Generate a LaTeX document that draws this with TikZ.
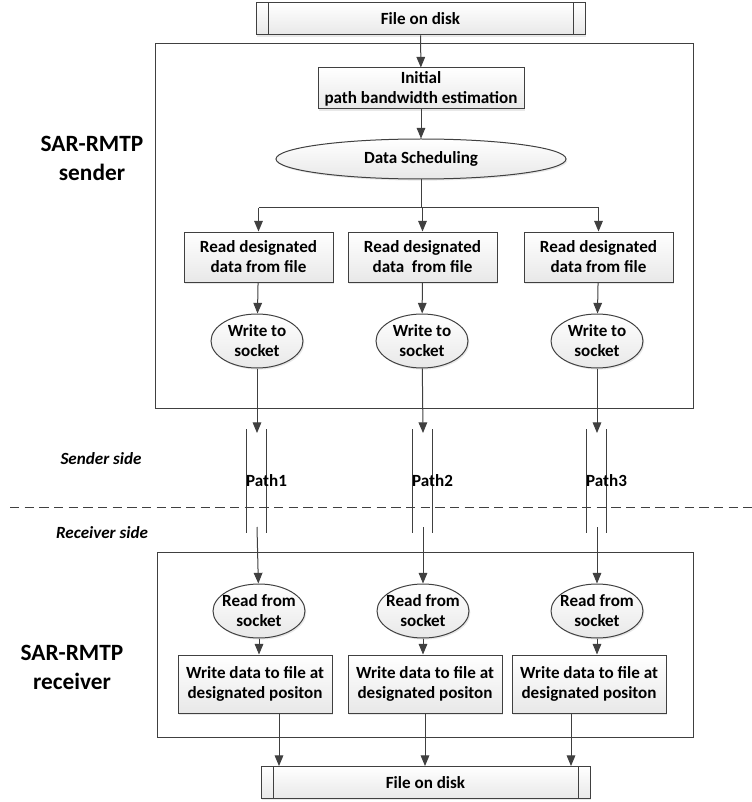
\documentclass[tikz,border=0pt]{standalone}
\usepackage{fontspec}
\setmainfont{Carlito}
\usetikzlibrary{arrows.meta,shapes.geometric,shadows}

\definecolor{linecol}{HTML}{404040}
\newcommand\boxfont{\fontsize{12.8}{15}\selectfont\bfseries}
\newcommand\bigfont{\fontsize{17.5}{21.75}\selectfont\bfseries}

\tikzset{
  shade/.style={top color=white, bottom color=black!9,
    drop shadow={opacity=0.18, shadow xshift=1pt, shadow yshift=-1.2pt}},
  flowbox/.style={draw=linecol, rectangle, shade, align=center, font=\boxfont, inner sep=1pt},
  flowell/.style={draw=linecol, ellipse, shade, align=center, font=\boxfont, inner sep=0pt},
  diskbox/.style={flowbox, minimum width=246.75pt, minimum height=24pt,
    path picture={
      \draw[linecol] ([xshift=9.5pt]path picture bounding box.north west) -- ([xshift=9.5pt]path picture bounding box.south west);
      \draw[linecol] ([xshift=-8.5pt]path picture bounding box.north east) -- ([xshift=-8.5pt]path picture bounding box.south east);
    }},
  readbox/.style={flowbox, minimum width=111.75pt, minimum height=37.5pt},
  writebox/.style={flowbox, minimum width=115.5pt, minimum height=43.5pt},
  sockell/.style={flowell, minimum width=69pt, minimum height=40.5pt, inner xsep=-4pt, inner ysep=-1pt},
}

\begin{document}
\begin{tikzpicture}[x=0.75pt, y=-0.75pt, >={Triangle[length=8pt,width=6.5pt]}, line width=0.75pt]
  \useasboundingbox (0,0) rectangle (752,802);

  % sender part
  \draw[linecol] (155,44) rectangle (693,408);
  \node[font=\bigfont, align=center] (sndlab) at (92,158) {SAR-RMTP\\sender};

  \node[diskbox] (diskT) at (420.5,19) {File on disk};
  \node[flowbox, minimum width=154.5pt, minimum height=30.75pt] (init) at (421,88.5) {Initial\\path bandwidth estimation};
  \node[flowell, minimum width=217.5pt, minimum height=30pt] (sched) at (421,159) {Data Scheduling};
  \coordinate (split) at (421,208);

  \node[readbox] (rd1) at (258.5,257) {Read designated\\data from file};
  \node[readbox] (rd2) at (422.5,257) {Read designated\\data\ \ from file};
  \node[readbox] (rd3) at (598.5,257) {Read designated\\data from file};

  \node[sockell] (ws1) at (257,341) {Write to\\socket};
  \node[sockell] (ws2) at (422,341) {Write to\\socket};
  \node[sockell] (ws3) at (597,341) {Write to\\socket};

  \draw[->, linecol] (diskT) -- (init);
  \draw[->, linecol] (init) -- (sched);
  \draw[linecol] (sched) -- (split);
  \draw[linecol] (split -| rd1) -- (split -| rd3);
  \draw[->, linecol] (split -| rd1) -- (rd1);
  \draw[->, linecol] (split -| rd2) -- (rd2);
  \draw[->, linecol] (split -| rd3) -- (rd3);
  \draw[->, linecol] (rd1) -- (ws1);
  \draw[->, linecol] (rd2) -- (ws2);
  \draw[->, linecol] (rd3) -- (ws3);

  % paths between the two sides
  \node[font=\boxfont\itshape] (sside) at (101,459) {Sender side};
  \node[font=\boxfont\itshape] (rside) at (102,533) {Receiver side};
  \draw[linecol, dash pattern=on 7pt off 4pt] (10,507) -- (752,507);
  \foreach \c/\n in {257/1,423/2,597/3}{
    \draw[linecol] (\c-11,429) -- (\c-11,533);
    \draw[linecol] (\c+9,429) -- (\c+9,533);
    \node[font=\boxfont, inner sep=0pt] (plab\n) at (\c+9.5,481) {Path\n};
    \coordinate (pin\n) at (\c,433);
    \coordinate (pout\n) at (\c,527);
  }
  \draw[->, linecol] (ws1) -- (pin1);
  \draw[->, linecol] (ws2) -- (pin2);
  \draw[->, linecol] (ws3) -- (pin3);

  % receiver part
  \draw[linecol] (157,552) rectangle (693,737);
  \node[font=\bigfont, align=center] (rcvlab) at (72,667) {SAR-RMTP\\receiver};

  \node[sockell] (rs1) at (259,611) {Read from\\socket};
  \node[sockell] (rs2) at (423,611) {Read from\\socket};
  \node[sockell] (rs3) at (597,611) {Read from\\socket};

  \node[writebox] (wd1) at (255,684) {Write data to file at\\designated positon};
  \node[writebox] (wd2) at (425,684) {Write data to file at\\designated positon};
  \node[writebox] (wd3) at (589,684) {Write data to file at\\designated positon};

  \node[diskbox] (diskB) at (425.5,782.5) {File on disk};

  \draw[->, linecol] (pout1) -- (rs1);
  \draw[->, linecol] (pout2) -- (rs2);
  \draw[->, linecol] (pout3) -- (rs3);
  \draw[->, linecol] (rs1) -- (rs1 |- wd1.north);
  \draw[->, linecol] (rs2) -- (rs2 |- wd2.north);
  \draw[->, linecol] (rs3) -- (rs3 |- wd3.north);
  \draw[->, linecol] (wd1.south -| 279,0) -- (diskB.north -| 279,0);
  \draw[->, linecol] (wd2.south -| 425,0) -- (diskB.north -| 425,0);
  \draw[->, linecol] (wd3.south -| 571,0) -- (diskB.north -| 571,0);
\end{tikzpicture}
\end{document}
